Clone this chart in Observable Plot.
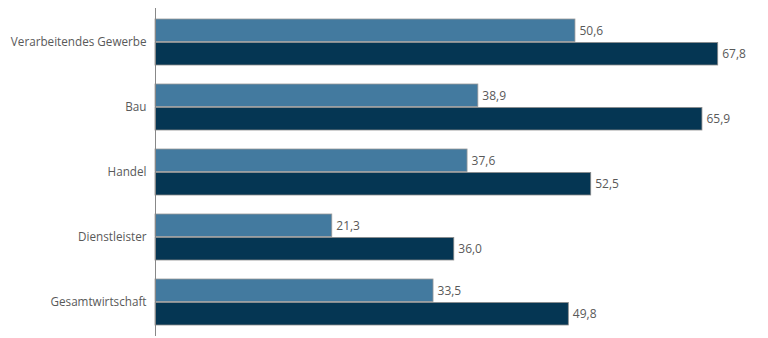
<!DOCTYPE html>
<html>
<head>
<meta charset="utf-8">
<script src="https://cdn.jsdelivr.net/npm/d3@7"></script>
<script src="https://cdn.jsdelivr.net/npm/@observablehq/plot@0.6"></script>
<style>
  html, body { margin: 0; padding: 0; background: #fff; }
  svg { display: block; }
</style>
</head>
<body>
<div id="chart"></div>
<script>
const categories = ["Verarbeitendes Gewerbe", "Bau", "Handel", "Dienstleister", "Gesamtwirtschaft"];
const seriesA = [50.6, 38.9, 37.6, 21.3, 33.5];
const seriesB = [67.8, 65.9, 52.5, 36.0, 49.8];
const colorA = "#437a9f";
const colorB = "#053653";

const dataA = categories.map((c, i) => ({category: c, value: seriesA[i]}));
const dataB = categories.map((c, i) => ({category: c, value: seriesB[i]}));
const fmt = v => v.toFixed(1).replace(".", ",");

const half = 23.5;
const chart = Plot.plot({
  width: 768,
  height: 338,
  marginLeft: 155,
  marginRight: 20,
  marginTop: 8,
  marginBottom: 2,
  style: {fontFamily: "'Open Sans', sans-serif", fontSize: "11.7px", color: "#595959"},
  x: {domain: [0, 71.45], axis: null},
  y: {domain: categories, paddingInner: 0.285, paddingOuter: 0.14, label: null, tickSize: 0, tickPadding: 9},
  marks: [
    Plot.barX(dataA, {x: "value", y: "category", fill: colorA, stroke: "#9a9a9a", strokeWidth: 0.8, insetBottom: half}),
    Plot.barX(dataB, {x: "value", y: "category", fill: colorB, stroke: "#8a8a8a", strokeWidth: 0.8, insetTop: half}),
    Plot.text(dataA, {x: "value", y: "category", text: d => fmt(d.value), dy: -half / 2, dx: 4, textAnchor: "start", fill: "#595959", fontSize: 12}),
    Plot.text(dataB, {x: "value", y: "category", text: d => fmt(d.value), dy: half / 2, dx: 4, textAnchor: "start", fill: "#595959", fontSize: 12}),
    Plot.ruleX([0], {stroke: "#888", strokeWidth: 1})
  ]
});
document.getElementById("chart").appendChild(chart);
</script>
</body>
</html>
